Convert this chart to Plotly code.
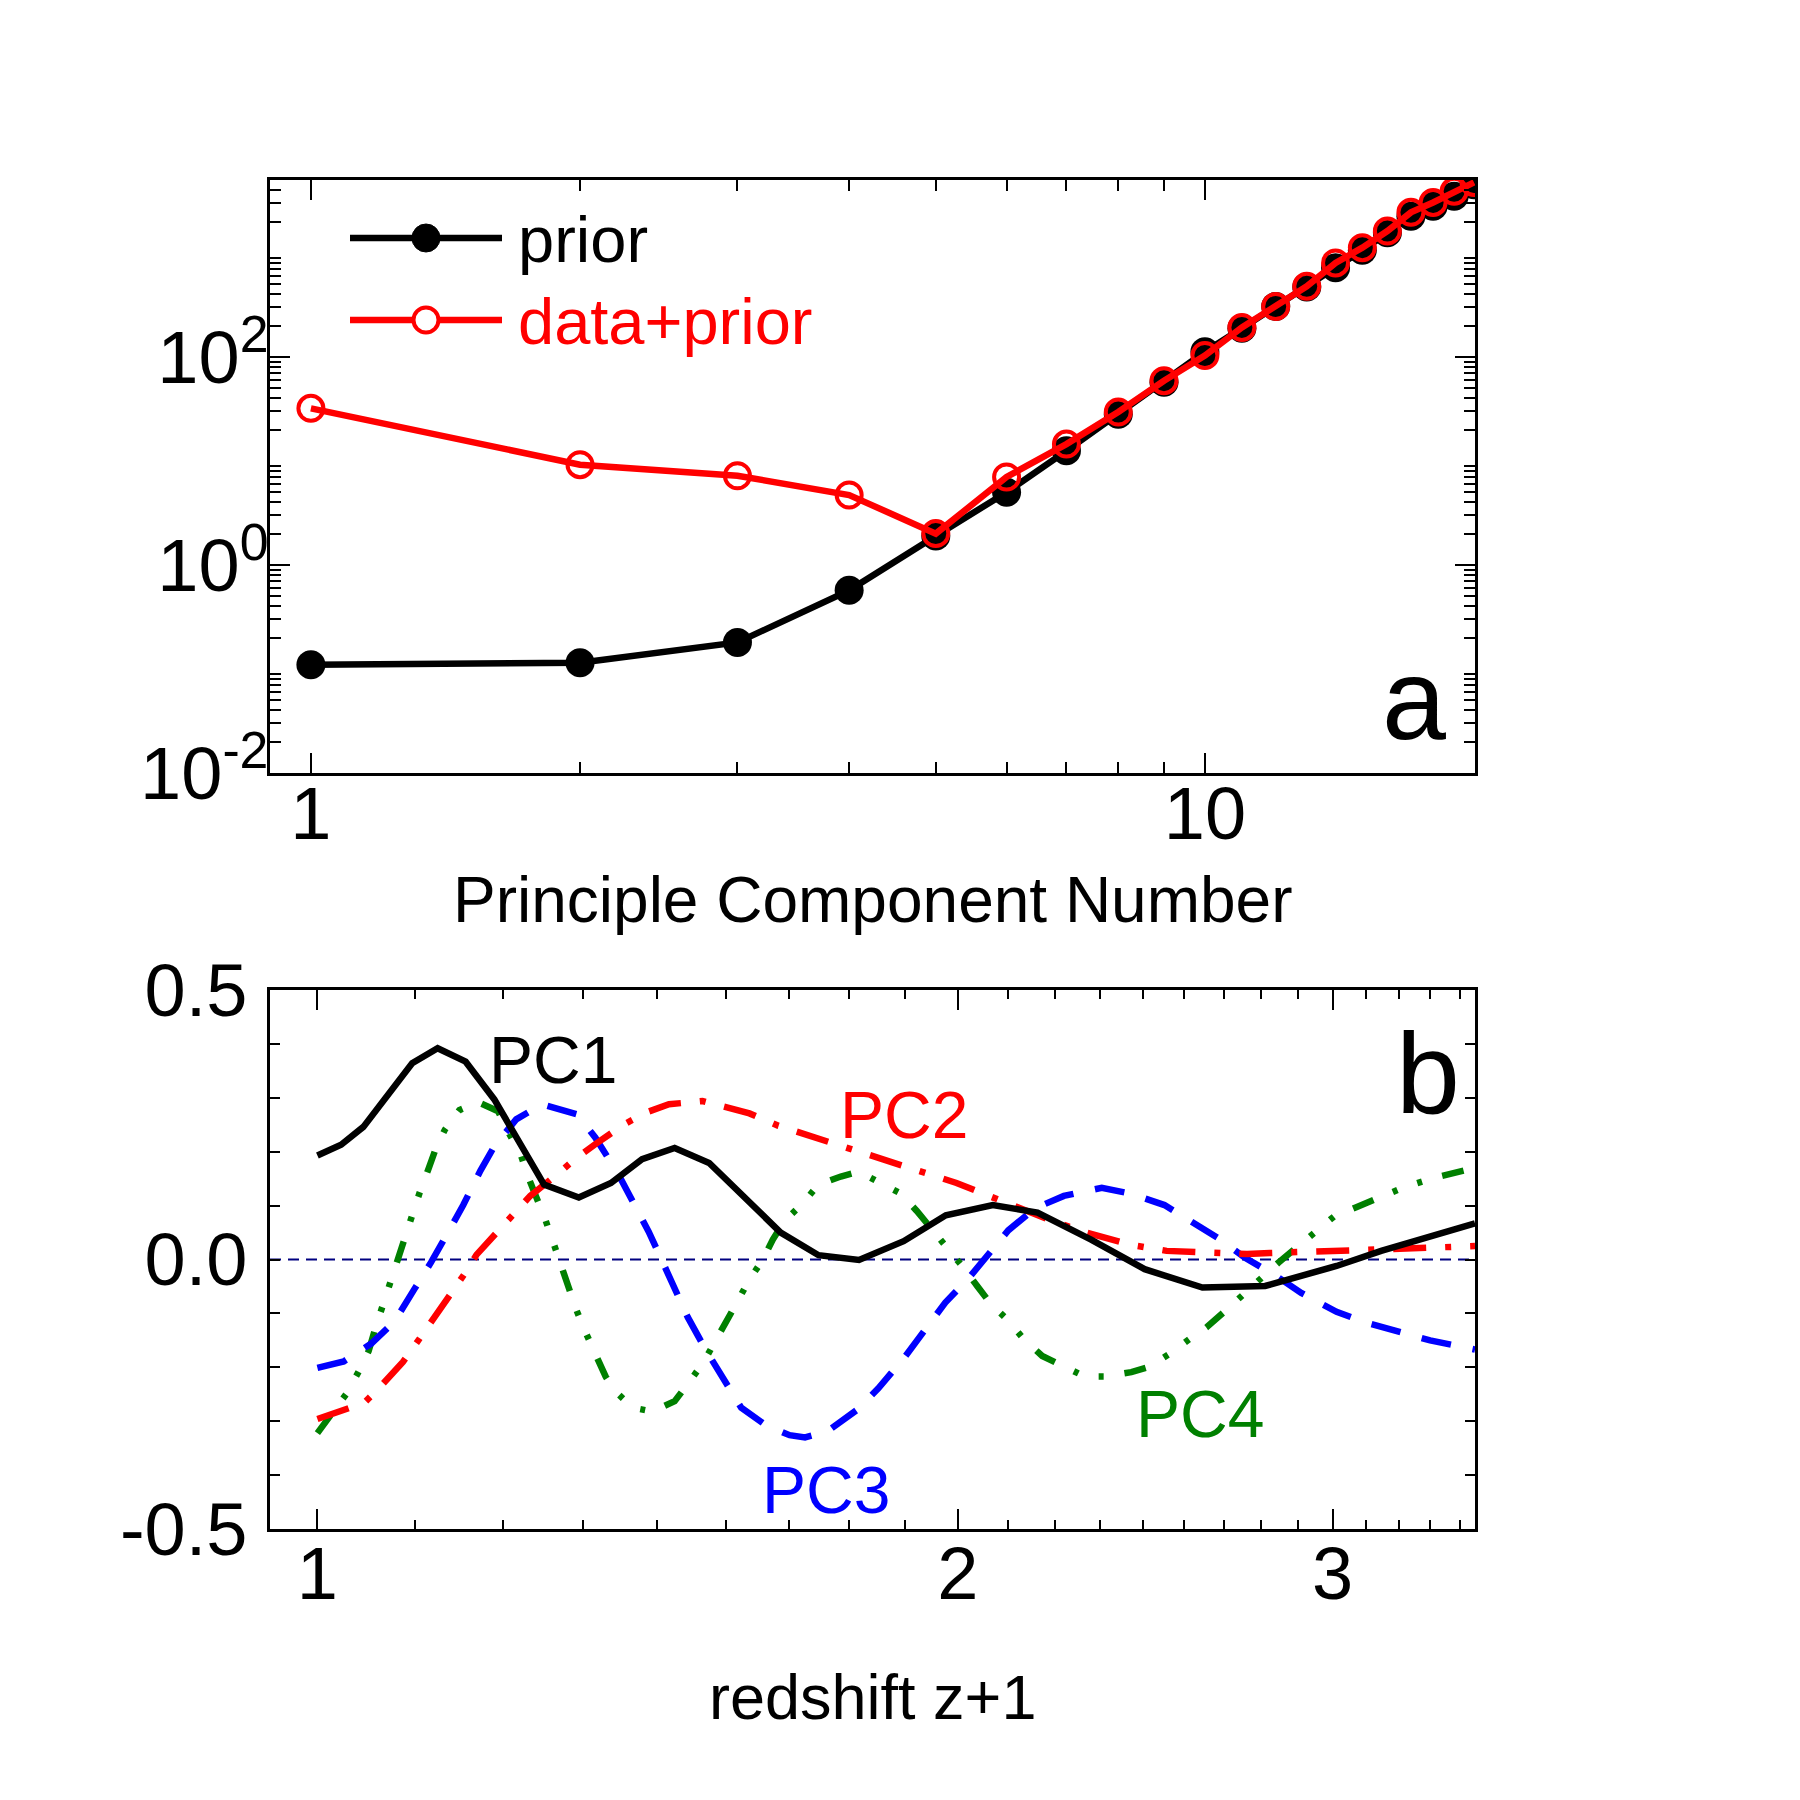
import numpy as np
import plotly.graph_objects as go

FONT = "Liberation Sans, Arial, Helvetica, sans-serif"

# ---------------- panel a data ----------------
pc_number = list(range(1, 21))
prior = [0.11, 0.115, 0.18, 0.57, 1.9, 5.0, 12.5, 28, 57, 112,
         188, 305, 470, 720, 1060, 1560, 2250, 2800, 3500, 4500]
data_prior = [32, 9.2, 7.2, 4.7, 2.0, 7.0, 14.5, 29.5, 59, 103,
              192, 305, 476, 800, 1120, 1620, 2450, 3050, 3900, 4750]

# ---------------- panel b data ----------------
pc1_x = [1.0, 1.026, 1.051, 1.108, 1.139, 1.174, 1.211, 1.247, 1.278, 1.327,
         1.374, 1.421, 1.472, 1.528, 1.588, 1.651, 1.720, 1.797, 1.886, 1.974,
         2.077, 2.180, 2.310, 2.448, 2.606, 2.789, 3.013, 3.162, 3.5]
pc1_y = [0.193, 0.213, 0.246, 0.364, 0.392, 0.367, 0.297, 0.21, 0.139, 0.115,
         0.142, 0.186, 0.207, 0.179, 0.116, 0.05, 0.008, -0.001, 0.034, 0.082,
         0.101, 0.087, 0.037, -0.018, -0.052, -0.049, -0.012, 0.016, 0.067]

pc2_x = [1.0, 1.033, 1.052, 1.071, 1.097, 1.115, 1.132, 1.157, 1.173, 1.188,
         1.217, 1.237, 1.259, 1.299, 1.323, 1.351, 1.394, 1.428, 1.463, 1.517,
         1.555, 1.596, 1.647, 1.687, 1.792, 1.839, 1.886, 1.950, 1.997, 2.047,
         2.118, 2.166, 2.217, 2.299, 2.355, 2.413, 2.507, 2.567, 2.633, 2.735,
         2.803, 2.871, 2.970, 3.060, 3.147, 3.255, 3.338, 3.5]
pc2_y = [-0.296, -0.277, -0.266, -0.235, -0.19, -0.151, -0.115, -0.062, -0.026, 0.009,
         0.056, 0.088, 0.118, 0.161, 0.188, 0.214, 0.251, 0.273, 0.288, 0.294,
         0.282, 0.271, 0.248, 0.235, 0.203, 0.189, 0.176, 0.156, 0.142, 0.125,
         0.102, 0.086, 0.071, 0.05, 0.037, 0.027, 0.016, 0.014, 0.012, 0.010,
         0.012, 0.013, 0.015, 0.016, 0.018, 0.019, 0.022, 0.025]

pc3_x = [1.0, 1.029, 1.06, 1.087, 1.111, 1.131, 1.154, 1.171, 1.193, 1.211,
         1.240, 1.275, 1.325, 1.351, 1.385, 1.404, 1.431, 1.450, 1.474, 1.493,
         1.522, 1.549, 1.582, 1.624, 1.667, 1.695, 1.736, 1.796, 1.835, 1.889,
         1.926, 1.973, 2.027, 2.062, 2.112, 2.174, 2.243, 2.337, 2.412, 2.501,
         2.569, 2.657, 2.729, 2.816, 2.900, 3.013, 3.109, 3.232, 3.334, 3.5]
pc3_y = [-0.201, -0.189, -0.156, -0.115, -0.054, -0.005, 0.056, 0.101, 0.165, 0.21,
         0.26, 0.288, 0.269, 0.226, 0.158, 0.116, 0.052, 0.003, -0.059, -0.107,
         -0.167, -0.215, -0.275, -0.307, -0.326, -0.330, -0.319, -0.277, -0.239, -0.180,
         -0.137, -0.080, -0.031, 0.006, 0.054, 0.095, 0.118, 0.133, 0.122, 0.101,
         0.074, 0.037, 0.003, -0.028, -0.062, -0.097, -0.117, -0.137, -0.150, -0.167]

pc4_x = [1.0, 1.015, 1.032, 1.045, 1.057, 1.065, 1.073, 1.082, 1.091, 1.099,
         1.107, 1.117, 1.127, 1.137, 1.148, 1.166, 1.190, 1.216, 1.230, 1.246,
         1.256, 1.268, 1.280, 1.291, 1.301, 1.311, 1.323, 1.336, 1.350, 1.366,
         1.379, 1.407, 1.437, 1.472, 1.495, 1.519, 1.538, 1.557, 1.577, 1.596,
         1.619, 1.637, 1.658, 1.689, 1.720, 1.762, 1.797, 1.841, 1.881, 1.913,
         1.944, 1.979, 2.013, 2.043, 2.073, 2.113, 2.148, 2.191, 2.239, 2.294,
         2.344, 2.413, 2.460, 2.517, 2.569, 2.617, 2.670, 2.719, 2.775, 2.829,
         2.877, 2.941, 3.005, 3.078, 3.155, 3.236, 3.351, 3.5]
pc4_y = [-0.322, -0.288, -0.249, -0.21, -0.170, -0.126, -0.087, -0.043, -0.001, 0.040,
         0.082, 0.124, 0.165, 0.207, 0.241, 0.277, 0.292, 0.275, 0.235, 0.195,
         0.154, 0.116, 0.073, 0.031, -0.009, -0.05, -0.092, -0.133, -0.175, -0.217,
         -0.243, -0.275, -0.282, -0.263, -0.228, -0.19, -0.152, -0.111, -0.075, -0.037,
         -0.001, 0.037, 0.072, 0.102, 0.139, 0.154, 0.163, 0.141, 0.122, 0.090,
         0.057, 0.022, -0.016, -0.05, -0.083, -0.114, -0.148, -0.179, -0.198, -0.217,
         -0.217, -0.209, -0.199, -0.174, -0.148, -0.126, -0.096, -0.067, -0.035, -0.006,
         0.018, 0.05, 0.08, 0.097, 0.115, 0.133, 0.152, 0.170]

# tick labels
a_xtick_vals = [1, 10]
a_xtick_text = ["1", "10"]
a_ytick_vals = [1e-2, 1e0, 1e2]
a_ytick_text = ["10<sup>-2</sup>", "10<sup>0</sup>", "10<sup>2</sup>"]
a_ytick_unlabeled = [1e-1, 1e1, 1e3]
b_xtick_vals = [1, 2, 3]
b_xtick_text = ["1", "2", "3"]
b_ytick_vals = [-0.5, 0.0, 0.5]
b_ytick_text = ["-0.5", "0.0", "0.5"]
b_ytick_minor = [-0.4, -0.3, -0.2, -0.1, 0.1, 0.2, 0.3, 0.4]

# ---------------- geometry (pixels of 1800x1800 page) ----------------
W = H = 1800
def px(x):
    return x / W
def py(y):
    return 1 - y / H

XL, XR = 270, 1475
A_TOP, A_BOT = 180, 773
B_TOP, B_BOT = 990, 1529
LW = 6.5

fig = go.Figure()

# panel a
fig.add_trace(go.Scatter(x=pc_number, y=prior, mode="lines+markers",
                         line=dict(color="black", width=LW),
                         marker=dict(symbol="circle", size=29, color="black"),
                         xaxis="x", yaxis="y", showlegend=False))
fig.add_trace(go.Scatter(x=pc_number, y=data_prior, mode="lines+markers",
                         line=dict(color="red", width=LW),
                         marker=dict(symbol="circle-open", size=25, color="red",
                                     line=dict(color="red", width=4)),
                         xaxis="x", yaxis="y", showlegend=False))

# panel b
fig.add_trace(go.Scatter(x=pc4_x, y=pc4_y, mode="lines",
                         line=dict(color="#008000", width=LW,
                                   dash="22px,21px,5px,21px,5px,21px"),
                         xaxis="x2", yaxis="y2", showlegend=False))
fig.add_trace(go.Scatter(x=pc3_x, y=pc3_y, mode="lines",
                         line=dict(color="blue", width=LW, dash="30px,22px"),
                         xaxis="x2", yaxis="y2", showlegend=False))
fig.add_trace(go.Scatter(x=pc2_x, y=pc2_y, mode="lines",
                         line=dict(color="red", width=LW, dash="33px,19px,6px,19px"),
                         xaxis="x2", yaxis="y2", showlegend=False))
fig.add_trace(go.Scatter(x=pc1_x, y=pc1_y, mode="lines",
                         line=dict(color="black", width=LW),
                         xaxis="x2", yaxis="y2", showlegend=False))

tickfont = dict(family=FONT, size=74, color="black")
axis_common = dict(showgrid=False, zeroline=False, showline=True, linecolor="black",
                   linewidth=2.5, mirror="ticks", ticks="inside", tickcolor="black",
                   tickwidth=2, tickfont=tickfont, automargin=False)

a_minor_x = [v for v in range(2, 10)] + [20]
a_minor_y = [k * 10.0 ** n for n in range(-2, 4) for k in range(2, 10) if k * 10.0 ** n < 5000]
b_minor_x = [round(b + k / 9, 4) for b in (1, 2, 3) for k in range(1, 9) if b + k / 9 < 3.5]

fig.update_layout(
    width=W, height=H, margin=dict(l=0, r=0, t=0, b=0, pad=0, autoexpand=False),
    paper_bgcolor="white", plot_bgcolor="white",
    font=dict(family=FONT, color="black"),
    showlegend=False,
    xaxis=dict(type="log", domain=[px(XL), px(XR)], anchor="y",
               range=[np.log10(0.9), np.log10(20.05)],
               tickmode="array", tickvals=a_xtick_vals, ticktext=a_xtick_text,
               ticklen=20, ticklabelstandoff=-26,
               minor=dict(tickmode="array", tickvals=a_minor_x, ticks="inside",
                          ticklen=11, tickwidth=2, tickcolor="black"),
               **axis_common),
    yaxis=dict(type="log", domain=[py(A_BOT), py(A_TOP)], anchor="x",
               range=[-2, 3.7],
               tickmode="array", tickvals=a_ytick_vals, ticktext=a_ytick_text,
               ticklen=20, ticklabelstandoff=-16,
               minor=dict(tickmode="array", tickvals=a_minor_y, ticks="inside",
                          ticklen=11, tickwidth=2, tickcolor="black"),
               **axis_common),
    # extra (unlabelled) long decade ticks for panel a
    yaxis3=dict(type="log", domain=[py(A_BOT), py(A_TOP)], anchor="x",
                overlaying="y", range=[-2, 3.7],
                tickmode="array", tickvals=a_ytick_unlabeled, showticklabels=False,
                ticklen=20, showgrid=False, zeroline=False, showline=False,
                mirror="ticks", ticks="inside", tickcolor="black", tickwidth=2,
                automargin=False),
    xaxis2=dict(type="log", domain=[px(XL), px(XR)], anchor="y2",
                range=[np.log10(0.95), np.log10(3.5)],
                tickmode="array", tickvals=b_xtick_vals, ticktext=b_xtick_text,
                ticklen=20, ticklabelstandoff=-22,
                minor=dict(tickmode="array", tickvals=b_minor_x, ticks="inside",
                           ticklen=9, tickwidth=2, tickcolor="black"),
                **axis_common),
    yaxis2=dict(domain=[py(B_BOT), py(B_TOP)], anchor="x2",
                range=[-0.5, 0.5],
                tickmode="array", tickvals=b_ytick_vals, ticktext=b_ytick_text,
                ticklen=10, ticklabelstandoff=5,
                minor=dict(tickmode="array", tickvals=b_ytick_minor, ticks="inside",
                           ticklen=10, tickwidth=2, tickcolor="black"),
                **axis_common),
)

# zero line in panel b
fig.add_shape(type="line", xref="x2 domain", yref="y2", x0=0, x1=1, y0=0, y1=0,
              line=dict(color="#000080", width=2, dash="11px,7px"), layer="below")

# custom legend in panel a
LEG_Y1, LEG_Y2 = 238, 320
fig.add_shape(type="line", xref="paper", yref="paper", x0=px(350), x1=px(502),
              y0=py(LEG_Y1), y1=py(LEG_Y1), line=dict(color="black", width=LW))
fig.add_shape(type="circle", xref="paper", yref="paper",
              x0=px(426 - 14), x1=px(426 + 14), y0=py(LEG_Y1 + 14), y1=py(LEG_Y1 - 14),
              fillcolor="black", line=dict(color="black", width=1))
fig.add_shape(type="line", xref="paper", yref="paper", x0=px(350), x1=px(502),
              y0=py(LEG_Y2), y1=py(LEG_Y2), line=dict(color="red", width=LW))
fig.add_shape(type="circle", xref="paper", yref="paper",
              x0=px(426 - 12.5), x1=px(426 + 12.5), y0=py(LEG_Y2 + 12.5), y1=py(LEG_Y2 - 12.5),
              fillcolor="white", line=dict(color="red", width=4))

def label(text, x, y, size, color="black", xanchor="center"):
    fig.add_annotation(text=text, xref="paper", yref="paper", x=px(x), y=py(y),
                       xanchor=xanchor, yanchor="middle", showarrow=False,
                       font=dict(family=FONT, size=size, color=color))

label("prior", 516, 239, 65, xanchor="left")
label("data+prior", 516, 321, 65, color="red", xanchor="left")
label("a", 1448, 699, 115, xanchor="right")
label("b", 1462, 1073, 115, xanchor="right")
label("PC1", 553, 1060, 66)
label("PC2", 904, 1115, 66, color="red")
label("PC3", 826, 1490, 66, color="blue")
label("PC4", 1200, 1414, 66, color="#008000")
label("Principle Component Number", 873, 900, 64)
label("redshift z+1", 872, 1697, 63)

fig.write_html("out.html")
